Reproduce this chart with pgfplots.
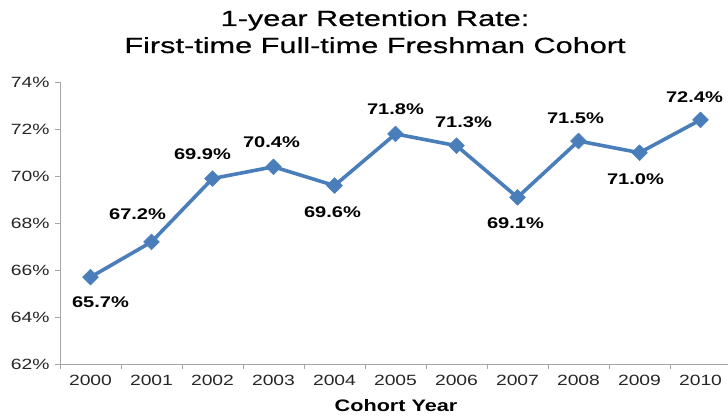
\documentclass[border=0pt]{standalone}
\usepackage{fontspec}
\setmainfont{Liberation Sans}[FakeStretch=1.3]
\newfontfamily\titlefont{Liberation Sans}[FakeStretch=1.40, FakeBold=0.6]
\usepackage{pgfplots}
\usepackage{pgfplotstable}
\pgfplotsset{compat=1.18}
\definecolor{lineblue}{HTML}{4A7EBB}
\definecolor{axisgray}{HTML}{A6A6A6}
\pgfplotstableread{
x y dx dy
0 65.7 10 -25
1 67.2 -14 28
2 69.9 -10 24
3 70.4 -2 25
4 69.6 -2 -27
5 71.8 0 25
6 71.3 7 24
7 69.1 -2 -26
8 71.5 -3 23
9 71.0 -4 -27
10 72.4 -6 23
}\datatable
\begin{document}
\begin{tikzpicture}
\useasboundingbox (0,0) rectangle (728bp,417bp);
\node[font=\titlefont\fontsize{22}{26}\selectfont, anchor=base] at (375bp,391bp) {1-year Retention Rate:};
\node[font=\titlefont\fontsize{22}{26}\selectfont, anchor=base] at (375bp,364bp) {First-time Full-time Freshman Cohort};
\node[font=\bfseries\fontsize{16.7}{19}\selectfont, anchor=base] at (396bp,6bp) {Cohort Year};
\begin{axis}[
  at={(60bp,53bp)}, anchor=south west,
  scale only axis, width=671bp, height=281.7bp,
  xmin=-0.5, xmax=10.5, ymin=62, ymax=74,
  axis x line=bottom, axis y line=left,
  axis line style={draw=axisgray, line width=0.9bp, -},
  tick align=outside,
  xtick={0,1,2,3,4,5,6,7,8,9,10},
  xticklabels={2000,2001,2002,2003,2004,2005,2006,2007,2008,2009,2010},
  minor xtick={-0.5,0.5,1.5,2.5,3.5,4.5,5.5,6.5,7.5,8.5,9.5,10.5},
  major x tick style={draw=none},
  minor tick length=5bp, major tick length=5bp,
  every tick/.style={draw=axisgray, line width=0.9bp},
  ytick={62,64,66,68,70,72,74},
  yticklabel={\pgfmathprintnumber{\tick}\%},
  /pgf/number format/assume math mode=true,
  ticklabel style={font=\fontsize{14.9}{17}\selectfont, text=black!85},
  xticklabel style={yshift=-3bp},
  yticklabel style={xshift=-2bp},
  clip=false,
]
\addplot[lineblue, line width=3.6bp, line join=round,
  mark=square*, mark size=5.6bp, mark options={rotate=45, line width=0.5bp, fill=lineblue},
  point meta=explicit,
  visualization depends on={\thisrow{dx} \as \dx},
  visualization depends on={\thisrow{dy} \as \dy},
  nodes near coords={\pgfmathprintnumber[fixed, fixed zerofill, precision=1, assume math mode=true]{\pgfplotspointmeta}\%},
  nodes near coords style={font=\bfseries\fontsize{15.5}{17}\selectfont, text=black, anchor=center, xshift=\dx pt, yshift=\dy pt},
] table[x=x, y=y, meta=y]{\datatable};
\end{axis}
\end{tikzpicture}
\end{document}
